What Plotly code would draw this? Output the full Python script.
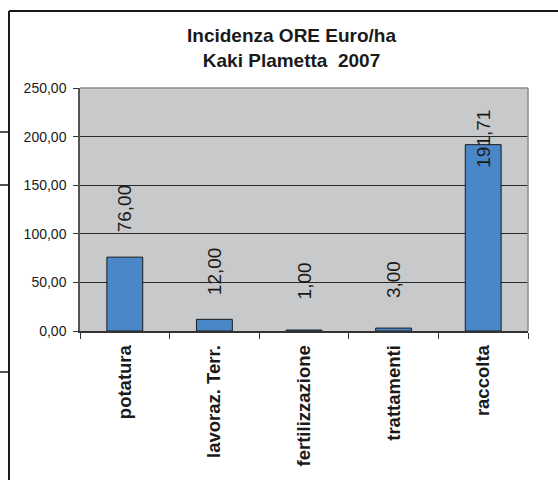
import plotly.graph_objects as go

# ---- data ----
categories = ["potatura", "lavoraz. Terr.", "fertilizzazione", "trattamenti", "raccolta"]
values = [76.00, 12.00, 1.00, 3.00, 191.71]
y_tick_values = [0, 50, 100, 150, 200, 250]
y_tick_labels = ["0,00", "50,00", "100,00", "150,00", "200,00", "250,00"]
title_lines = ["Incidenza ORE Euro/ha", "Kaki Plametta\u00a0\u00a02007"]

# ---- layout geometry (pixels) ----
W, H = 558, 480
L, R, T, B = 80, 30, 88, 149
PW, PH = W - L - R, H - T - B

FONT = "Arial, 'Liberation Sans', Helvetica, sans-serif"
TXT = "#1a1a1a"


def px_x(px):
    return (px - L) / PW


def px_y(py):
    return (H - B - py) / PH


fig = go.Figure(
    go.Bar(
        x=categories,
        y=values,
        width=0.4,
        marker=dict(color="#4A87C8", line=dict(color="#1a1a1a", width=1)),
        hoverinfo="skip",
    )
)

# data labels (rotated, Excel-like placement kept inside plot)
for c, v in zip(categories, values):
    fig.add_annotation(
        x=c,
        y=min(v + 50, 198),
        xref="x",
        yref="y",
        text=f"{v:.2f}".replace(".", ","),
        textangle=-90,
        showarrow=False,
        xanchor="center",
        yanchor="middle",
        font=dict(family=FONT, size=19, color=TXT),
    )

# chart title
fig.add_annotation(
    x=px_x(291),
    y=px_y(23),
    xref="paper",
    yref="paper",
    text="<br>".join(title_lines),
    showarrow=False,
    xanchor="center",
    yanchor="top",
    align="center",
    font=dict(family=FONT, size=19, color=TXT, weight="bold"),
)

shapes = []
# plot area top and right border (gray)
shapes.append(dict(type="line", xref="paper", yref="paper", x0=0, x1=1, y0=1, y1=1,
                   line=dict(color="#8a8a8a", width=1.5), layer="above"))
shapes.append(dict(type="line", xref="paper", yref="paper", x0=1, x1=1, y0=0, y1=1,
                   line=dict(color="#8a8a8a", width=1.5), layer="above"))
# outer chart frame (top and left)
shapes.append(dict(type="line", xref="paper", yref="paper", x0=px_x(9), x1=px_x(560),
                   y0=px_y(11), y1=px_y(11), line=dict(color="#1a1a1a", width=2)))
shapes.append(dict(type="line", xref="paper", yref="paper", x0=px_x(9), x1=px_x(9),
                   y0=px_y(11), y1=px_y(482), line=dict(color="#1a1a1a", width=2)))
# spreadsheet cell-border stubs at the far left
for sy in [132, 185, 372]:
    shapes.append(dict(type="line", xref="paper", yref="paper", x0=px_x(-2), x1=px_x(9),
                       y0=px_y(sy), y1=px_y(sy), line=dict(color="#1a1a1a", width=1.5)))

fig.update_layout(
    width=W,
    height=H,
    margin=dict(l=L, r=R, t=T, b=B, pad=0),
    paper_bgcolor="white",
    plot_bgcolor="#C8C9CB",
    showlegend=False,
    bargap=0.6,
    font=dict(family=FONT, color=TXT),
    xaxis=dict(
        type="category",
        tickson="boundaries",
        ticks="outside",
        ticklen=6,
        tickcolor="#333333",
        tickwidth=1,
        showline=True,
        linecolor="#333333",
        linewidth=1.5,
        showgrid=False,
        tickangle=-90,
        ticklabelstandoff=5,
        tickfont=dict(family=FONT, size=18.5, color=TXT, weight="bold"),
        fixedrange=True,
    ),
    yaxis=dict(
        range=[0, 250],
        tickmode="array",
        tickvals=y_tick_values,
        ticktext=y_tick_labels,
        ticks="outside",
        ticklen=5,
        tickcolor="#333333",
        showline=True,
        linecolor="#555555",
        linewidth=1.5,
        showgrid=True,
        gridcolor="#2a2a2a",
        gridwidth=1,
        zeroline=False,
        ticklabelstandoff=4,
        tickfont=dict(family=FONT, size=14, color=TXT),
        fixedrange=True,
    ),
    shapes=shapes,
)

fig.write_html(
    "out.html",
    config={"displayModeBar": False},
    post_script="document.body.style.margin='0';document.body.style.overflow='hidden';",
)
